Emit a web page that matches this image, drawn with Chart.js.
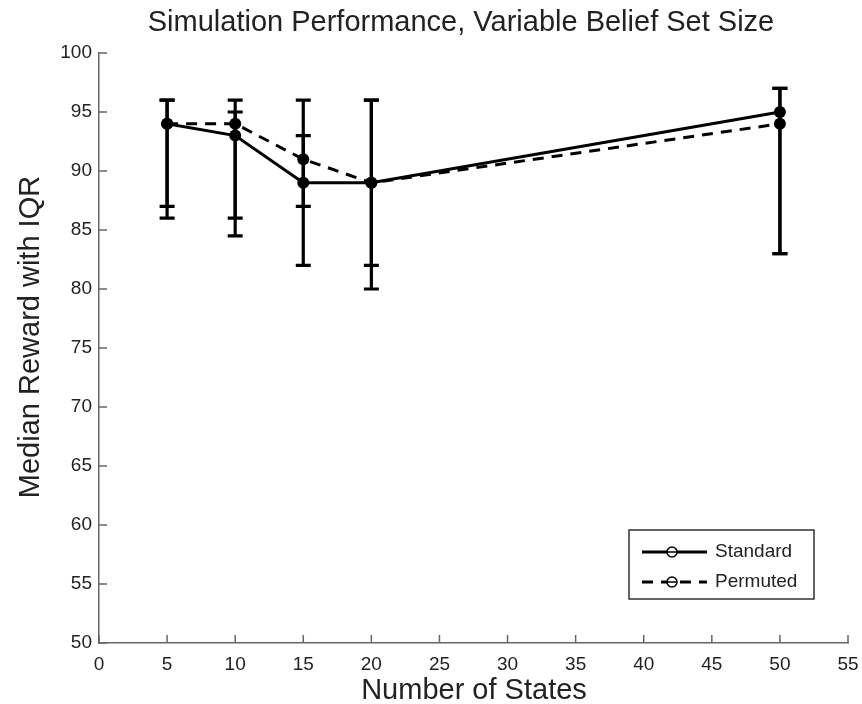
<!DOCTYPE html>
<html>
<head>
<meta charset="utf-8">
<script src="https://cdn.jsdelivr.net/npm/chart.js@4/dist/chart.umd.min.js"></script>
<style>
  html, body { margin: 0; padding: 0; background: #fff; }
  #wrap { width: 862px; height: 704px; }
</style>
</head>
<body>
<div id="wrap"><canvas id="c" width="862" height="704"></canvas></div>
<script>
// ---- data ----
const numStates = [5, 10, 15, 20, 50];
const standardMedian = [94, 93, 89, 89, 95];
const standardLow    = [86, 84.5, 82, 80, 83];
const standardHigh   = [96, 96, 96, 96, 97];
const permutedMedian = [94, 94, 91, 89, 94];
const permutedLow    = [87, 86, 87, 82, 83];
const permutedHigh   = [96, 95, 93, 96, 97];
const seriesLabels = ['Standard', 'Permuted'];
const titleText = 'Simulation Performance, Variable Belief Set Size';
const xTitle = 'Number of States';
const yTitle = 'Median Reward with IQR';

const FONT = '"Liberation Sans", Arial, Helvetica, sans-serif';
const AXIS_COLOR = '#666';
const TEXT_COLOR = '#222';

const lows = [standardLow, permutedLow];
const highs = [standardHigh, permutedHigh];

const decorPlugin = {
  id: 'decor',
  beforeDatasetsDraw(chart) {
    const ctx = chart.ctx;
    const xs = chart.scales.x, ys = chart.scales.y;
    ctx.save();
    ctx.strokeStyle = '#000';
    ctx.lineWidth = 3.2;
    ctx.lineCap = 'butt';
    chart.data.datasets.forEach((ds, di) => {
      numStates.forEach((n, i) => {
        const px = xs.getPixelForValue(n);
        const pl = ys.getPixelForValue(lows[di][i]);
        const ph = ys.getPixelForValue(highs[di][i]);
        ctx.beginPath();
        ctx.moveTo(px, pl); ctx.lineTo(px, ph);
        ctx.moveTo(px - 7.5, pl); ctx.lineTo(px + 7.5, pl);
        ctx.moveTo(px - 7.5, ph); ctx.lineTo(px + 7.5, ph);
        ctx.stroke();
      });
    });
    ctx.restore();
  },
  afterDraw(chart) {
    const ctx = chart.ctx;
    const xs = chart.scales.x, ys = chart.scales.y;
    const area = chart.chartArea;
    ctx.save();
    // inward ticks
    ctx.strokeStyle = AXIS_COLOR;
    ctx.lineWidth = 1.5;
    ctx.beginPath();
    xs.ticks.forEach(t => {
      const px = xs.getPixelForValue(t.value);
      ctx.moveTo(px, area.bottom); ctx.lineTo(px, area.bottom - 8);
    });
    ys.ticks.forEach(t => {
      const py = ys.getPixelForValue(t.value);
      ctx.moveTo(area.left, py); ctx.lineTo(area.left + 8, py);
    });
    ctx.stroke();

    // titles
    ctx.fillStyle = TEXT_COLOR;
    ctx.textAlign = 'center';
    ctx.textBaseline = 'middle';
    ctx.font = '29px ' + FONT;
    ctx.fillText(titleText, 461, 23);
    ctx.font = '29px ' + FONT;
    ctx.fillText(xTitle, 474, 691);
    ctx.save();
    ctx.translate(31, 337);
    ctx.rotate(-Math.PI / 2);
    ctx.fillText(yTitle, 0, 0);
    ctx.restore();

    // legend
    const bx = 629, by = 530, bw = 185, bh = 69;
    ctx.fillStyle = '#fff';
    ctx.fillRect(bx, by, bw, bh);
    ctx.strokeStyle = '#333';
    ctx.lineWidth = 1.5;
    ctx.strokeRect(bx, by, bw, bh);
    const rows = [552, 582];
    chart.data.datasets.forEach((ds, di) => {
      const y = rows[di];
      ctx.strokeStyle = '#000';
      ctx.lineWidth = 3;
      ctx.setLineDash(ds.borderDash || []);
      ctx.beginPath();
      ctx.moveTo(642, y); ctx.lineTo(707, y);
      ctx.stroke();
      ctx.setLineDash([]);
      ctx.lineWidth = 1.5;
      ctx.fillStyle = '#fff';
      ctx.beginPath();
      ctx.arc(672, y, 5, 0, Math.PI * 2);
      ctx.fill();
      ctx.stroke();
      ctx.beginPath();
      ctx.moveTo(667, y); ctx.lineTo(677, y);
      ctx.stroke();
      ctx.fillStyle = TEXT_COLOR;
      ctx.textAlign = 'left';
      ctx.font = '19px ' + FONT;
      ctx.fillText(ds.label, 715, y);
    });
    ctx.restore();
  }
};

new Chart(document.getElementById('c'), {
  type: 'scatter',
  data: {
    datasets: [
      {
        label: seriesLabels[0],
        data: numStates.map((n, i) => ({ x: n, y: standardMedian[i] })),
        showLine: true,
        borderColor: '#000',
        backgroundColor: '#000',
        borderWidth: 3,
        pointRadius: 6,
        pointBorderWidth: 0,
        pointBackgroundColor: '#000',
        tension: 0
      },
      {
        label: seriesLabels[1],
        data: numStates.map((n, i) => ({ x: n, y: permutedMedian[i] })),
        showLine: true,
        borderColor: '#000',
        backgroundColor: '#000',
        borderWidth: 3,
        borderDash: [11, 8],
        pointRadius: 6,
        pointBorderWidth: 0,
        pointBackgroundColor: '#000',
        tension: 0
      }
    ]
  },
  options: {
    responsive: false,
    animation: false,
    devicePixelRatio: 1,
    layout: { padding: { top: 53, right: 14, left: 0, bottom: 0 } },
    plugins: {
      legend: { display: false },
      title: { display: false },
      tooltip: { enabled: false }
    },
    scales: {
      x: {
        type: 'linear',
        min: 0, max: 55,
        grid: { display: false, drawTicks: false },
        border: { display: true, color: AXIS_COLOR, width: 1.5 },
        ticks: { stepSize: 5, color: TEXT_COLOR, font: { family: FONT, size: 19 }, padding: 10, maxRotation: 0, autoSkip: false },
        afterFit(scale) { scale.height = 61; scale.paddingLeft = 0; scale.paddingRight = 0; }
      },
      y: {
        type: 'linear',
        min: 50, max: 100,
        grid: { display: false, drawTicks: false },
        border: { display: true, color: AXIS_COLOR, width: 1.5 },
        ticks: { stepSize: 5, color: TEXT_COLOR, font: { family: FONT, size: 19 }, padding: 7, autoSkip: false },
        afterFit(scale) { scale.width = 99; scale.paddingTop = 0; scale.paddingBottom = 0; }
      }
    }
  },
  plugins: [decorPlugin]
});
</script>
</body>
</html>
